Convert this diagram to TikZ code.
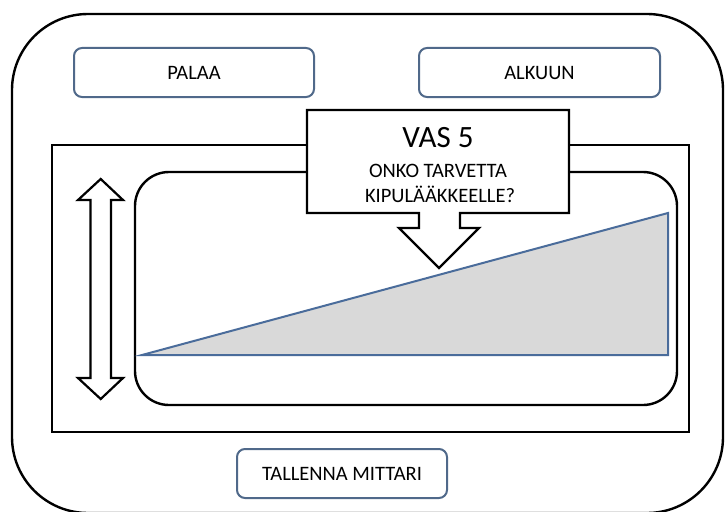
\documentclass[tikz,border=0pt]{standalone}
\usepackage{fontspec}
\setmainfont{Carlito}
\definecolor{btnline}{HTML}{50698A}
\definecolor{graphline}{HTML}{4A6C9B}
\definecolor{graphfill}{HTML}{D9D9D9}
\tikzset{
  btn/.style={draw=btnline, line width=2pt, rounded corners=8pt, fill=white,
    inner sep=0pt, font=\fontsize{20.5}{24}\selectfont},
  frame/.style={draw=black, line width=2.4pt},
  txt/.style={inner sep=0pt, anchor=base},
}
\begin{document}
\begin{tikzpicture}[x=1pt,y=-1pt]
\useasboundingbox (0,0) rectangle (725,511);
\fill[white] (0,0) rectangle (725,511);

% device outline
\draw[frame, rounded corners=76pt] (12,14) rectangle (723,513);

% top and bottom buttons
\node[btn, minimum width=240pt, minimum height=49pt] (palaa) at (194,72.5) {PALAA};
\node[btn, minimum width=241pt, minimum height=49pt] (alkuun) at (539.5,72.5) {ALKUUN};
\node[btn, minimum width=210pt, minimum height=49pt] (tallenna) at (342,473.5) {TALLENNA MITTARI};

% measuring panel
\draw[frame] (52,145) rectangle (689,432);
\draw[frame, rounded corners=34pt] (135,172) rectangle (677,405);

% scale wedge
\draw[draw=graphline, fill=graphfill, line width=2pt, line join=miter]
  (142,355) -- (668,213) -- (668,355) -- cycle;

% vertical double arrow
\draw[frame, line width=2.2pt, fill=white, line join=miter]
  (100.7,179) -- (123,200) -- (111,200) -- (111,378) -- (123,378)
  -- (100.7,399) -- (78,378) -- (90.5,378) -- (90.5,200) -- (78,200) -- cycle;

% callout with pointer
\draw[frame, fill=white, line join=miter]
  (307,110) -- (569,110) -- (569,213) -- (460,213) -- (460,228) -- (479,228)
  -- (439,268) -- (399,228) -- (419,228) -- (419,213) -- (307,213) -- cycle;
\node[txt, font=\fontsize{31}{36}\selectfont] (vas) at (438,147) {VAS 5};
\node[txt, font=\fontsize{20.5}{24}\selectfont] (onko) at (438,177) {ONKO TARVETTA};
\node[txt, font=\fontsize{20.5}{24}\selectfont] (kipu) at (440,202) {KIPULÄÄKKEELLE?};
\end{tikzpicture}
\end{document}
